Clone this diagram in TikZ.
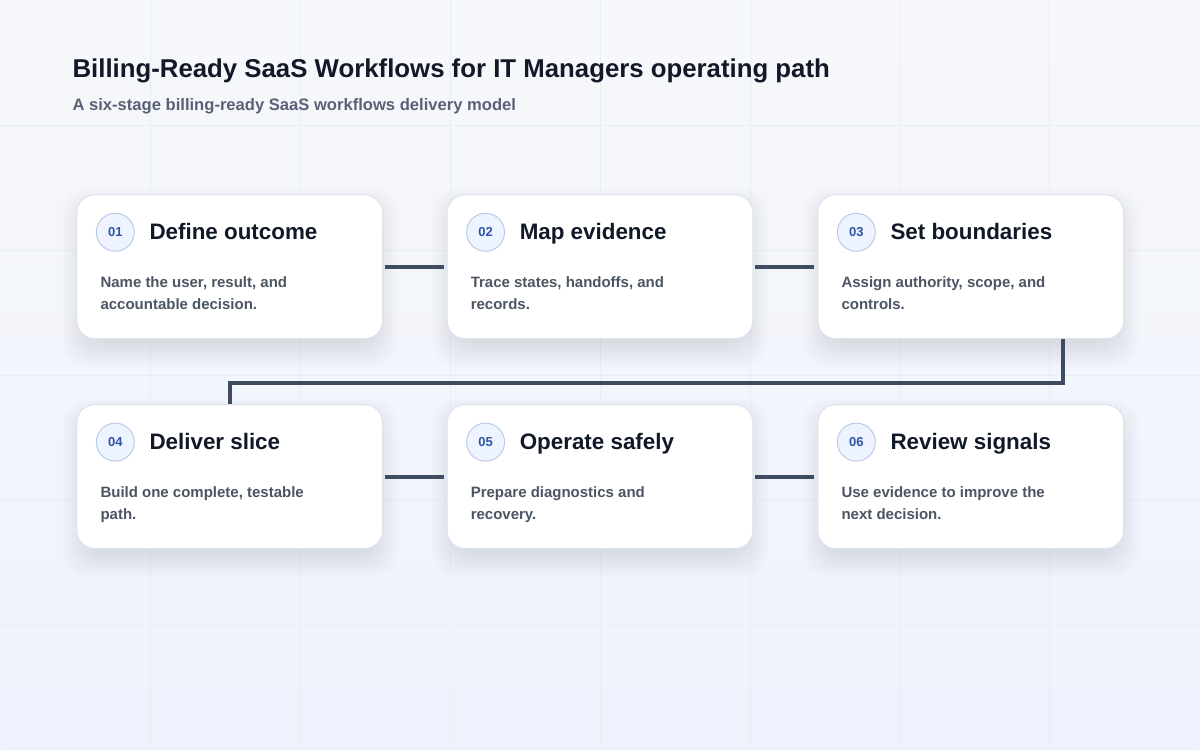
\documentclass[tikz,border=0pt]{standalone}
\usepackage{fontspec}
\setmainfont{Liberation Sans}

\definecolor{ink}{HTML}{111827}
\definecolor{subink}{HTML}{586175}
\definecolor{bodyink}{HTML}{4B5563}
\definecolor{cardline}{HTML}{DCE2EE}
\definecolor{badgefill}{HTML}{EEF4FF}
\definecolor{badgeline}{HTML}{BACBE8}
\definecolor{badgeink}{HTML}{2F55A4}
\definecolor{linkink}{HTML}{3F4B5E}
\definecolor{gridink}{HTML}{E9EDF4}
\definecolor{backtop}{HTML}{F7F8FB}
\definecolor{backlow}{HTML}{EDF2FC}
\definecolor{shadowink}{HTML}{4A5880}

\begin{document}
\begin{tikzpicture}[
		x=1pt, y=-1pt,
		card/.style={draw=cardline, line width=1pt, fill=white, rounded corners=18pt,
			minimum width=306pt, minimum height=144pt},
		haze/.style={fill=shadowink, opacity=0.01, rounded corners=24pt},
		badge/.style={circle, draw=badgeline, fill=badgefill, line width=1pt, minimum size=38pt,
			inner sep=0pt, text=badgeink, font=\bfseries\fontsize{13}{13}\selectfont},
		head/.style={anchor=base west, inner sep=0pt, text=ink, font=\bfseries\fontsize{22.4}{26}\selectfont},
		body/.style={anchor=north west, inner sep=0pt, align=left, text=bodyink,
			font=\bfseries\fontsize{15}{22}\selectfont},
		link/.style={draw=linkink, line width=4pt, shorten <=2pt, shorten >=3pt},
		gridline/.style={draw=gridink, line width=0.8pt}
	]
  % backdrop
  \shade[shading angle=150, top color=backtop, bottom color=backlow]
    (0,0) rectangle (1200,750);
  \foreach \gx in {150,300,...,1050} \draw[gridline] (\gx,0) -- (\gx,750);
  \foreach \gy in {125,250,...,625} \draw[gridline] (0,\gy) -- (1200,\gy);
  \useasboundingbox (0,0) rectangle (1200,750);

  % heading
  \node (title) [anchor=base west, inner sep=0pt, text=ink, font=\bfseries\fontsize{25.8}{30}\selectfont]
    at (72,77) {Billing-Ready SaaS Workflows for IT Managers operating path};
  \node (subtitle) [anchor=base west, inner sep=0pt, text=subink, font=\bfseries\fontsize{16.6}{20}\selectfont]
    at (72,110) {A six-stage billing-ready SaaS workflows delivery model};

  % stages
  \foreach \n/\cx/\cy/\name/\la/\lb in {
      1/229.5/266.5/{Define outcome}/{Name the user, result, and}/{accountable decision.},
      2/600/266.5/{Map evidence}/{Trace states, handoffs, and}/{records.},
      3/971/266.5/{Set boundaries}/{Assign authority, scope, and}/{controls.},
      4/229.5/476.5/{Deliver slice}/{Build one complete, testable}/{path.},
      5/600/476.5/{Operate safely}/{Prepare diagnostics and}/{recovery.},
      6/971/476.5/{Review signals}/{Use evidence to improve the}/{next decision.}} {
    \foreach \k in {0,2,...,22}
      \fill[haze] (\cx-146-\k,\cy-56-\k) rectangle (\cx+146+\k,\cy+78+\k);
    \node (c\n) [card] at (\cx,\cy) {};
    \node (b\n) [badge] at (\cx-114.5,\cy-34.5) {0\n};
    \node (h\n) [head] at (\cx-80.5,\cy-27) {\name};
    \node (d\n) [body] at (\cx-129.5,\cy+9.5) {\la\\\lb};
  }

  % flow
  \coordinate (turn) at (1063,383);
  \draw[link] (c1) -- (c2);
  \draw[link] (c2) -- (c3);
  \draw[link, shorten <=0pt, shorten >=0pt] (c3.south -| turn) -- (turn) -| (c4.north);
  \draw[link] (c4) -- (c5);
  \draw[link] (c5) -- (c6);
\end{tikzpicture}
\end{document}
